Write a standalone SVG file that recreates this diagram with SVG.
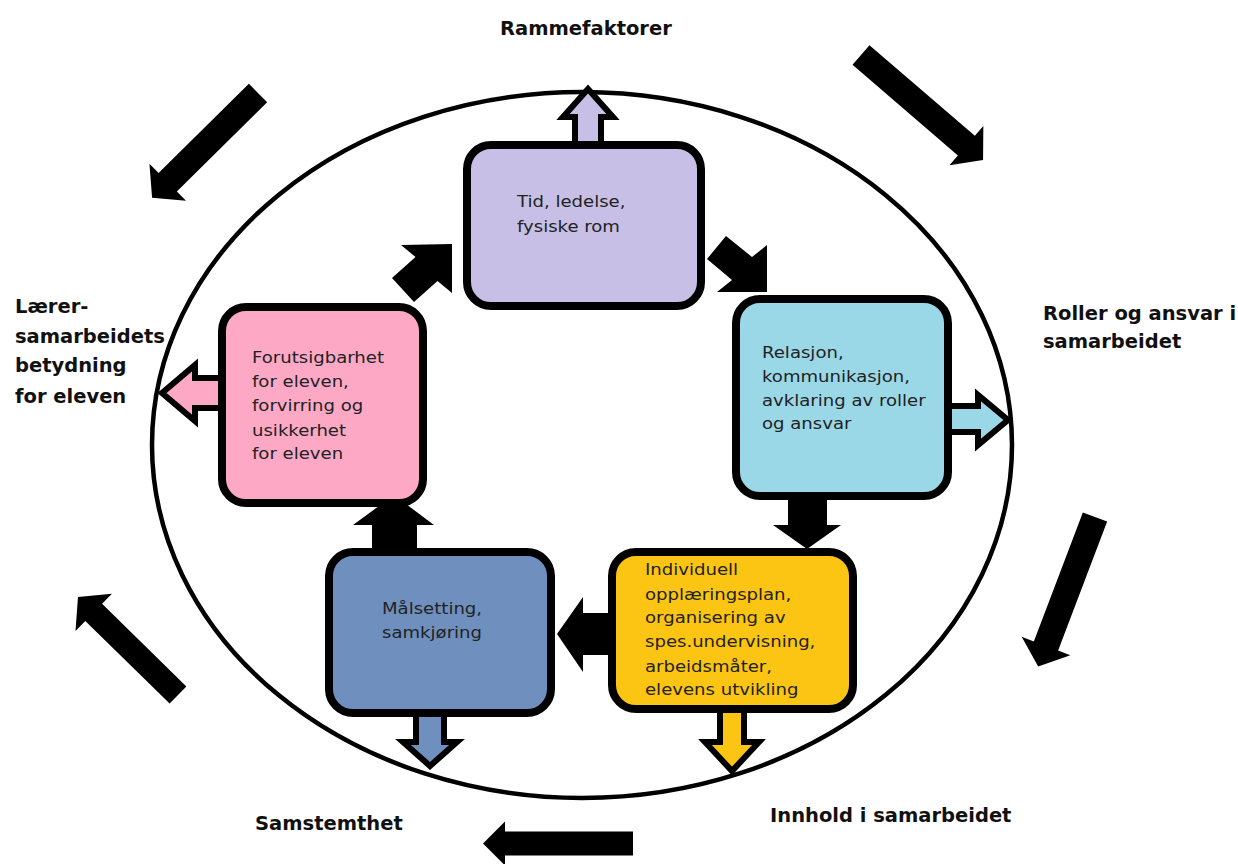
<svg xmlns="http://www.w3.org/2000/svg" width="1238" height="864" viewBox="0 0 1238 864">
<style>
.lbl{font-family:"DejaVu Sans","Liberation Sans",sans-serif;font-weight:bold;font-size:19.5px;fill:#111;}
.txt{font-family:"DejaVu Sans","Liberation Sans",sans-serif;font-size:16px;fill:#222;}
.box{stroke:#000;stroke-width:8;}
.oarr{stroke:#000;stroke-width:6;stroke-linejoin:miter;}
.barr{fill:#000;}
</style>
<rect width="1238" height="864" fill="#fff"/>
<ellipse cx="582" cy="445" rx="430" ry="353" fill="none" stroke="#000" stroke-width="4.5"/>

<g id="outer-arrows" class="barr">
  <path transform="translate(258,93) rotate(135.3)" d="M0,-13 H127 V-26 L149,0 L127,26 V13 H0 Z"/>
  <path transform="translate(861,55) rotate(40.7)" d="M0,-13 H139 V-26 L161,0 L139,26 V13 H0 Z"/>
  <path transform="translate(1095,517) rotate(110.8)" d="M0,-13 H138 V-26 L160,0 L138,26 V13 H0 Z"/>
  <path transform="translate(178,695) rotate(224.4)" d="M0,-12 H118 V-26 L140,0 L118,26 V12 H0 Z"/>
  <path transform="translate(633,843.5) rotate(180)" d="M0,-12 H128 V-22 L150,0 L128,22 V12 H0 Z"/>
</g>

<g id="connectors">
  <polygon class="barr" points="392,278 415.5,257 401,245 452,244 452,293 437.5,281 414,302"/>
  <polygon class="barr" points="726,236 752,257 767,245 767,292 717,292 732,280 707,259"/>
  <polygon class="barr" points="788,496 788,525 773,525 807,549 841,525 827,525 827,496"/>
  <polygon class="barr" points="612,613 583,613 583,597 557,634 583,672 583,655 612,655"/>
  <polygon class="barr" points="372,552 372,525 353,525 394,495 434,525 417,525 417,552"/>
  <polygon class="oarr" fill="#C7BFE6" points="575,145 575,117 563,117 588,89 613,117 601,117 601,145"/>
  <polygon class="oarr" fill="#9AD8E8" points="948,406 978,406 978,395 1008,420 978,445 978,432 948,432"/>
  <polygon class="oarr" fill="#FDA9C6" points="222,378 195,378 195,365 162,393 195,421 195,408 222,408"/>
  <polygon class="oarr" fill="#6F90BF" points="416,713 416,742 403,742 430,766 457,742 444,742 444,713"/>
  <polygon class="oarr" fill="#FCC513" points="720,709 720,742 705,742 732,771 759,742 744,742 744,709"/>
</g>

<g id="node-tid">
  <rect class="box" x="467" y="145" width="234" height="161" rx="24" fill="#C7BFE6"/>
  <text class="txt" transform="matrix(1.13,0,0,1,517,0)"><tspan x="0" y="207">Tid, ledelse,</tspan><tspan x="0" y="232">fysiske rom</tspan></text>
</g>
<g id="node-relasjon">
  <rect class="box" x="736" y="299" width="212" height="197" rx="24" fill="#9AD8E8"/>
  <text class="txt" transform="matrix(1.13,0,0,1,762,0)"><tspan x="0" y="358">Relasjon,</tspan><tspan x="0" y="382">kommunikasjon,</tspan><tspan x="0" y="406">avklaring av roller</tspan><tspan x="0" y="429">og ansvar</tspan></text>
</g>
<g id="node-forutsigbarhet">
  <rect class="box" x="222" y="307" width="201" height="196" rx="24" fill="#FDA9C6"/>
  <text class="txt" transform="matrix(1.13,0,0,1,252,0)"><tspan x="0" y="363">Forutsigbarhet</tspan><tspan x="0" y="387">for eleven,</tspan><tspan x="0" y="411">forvirring og</tspan><tspan x="0" y="436">usikkerhet</tspan><tspan x="0" y="459">for eleven</tspan></text>
</g>
<g id="node-malsetting">
  <rect class="box" x="329" y="552" width="222" height="161" rx="24" fill="#6F90BF"/>
  <text class="txt" transform="matrix(1.13,0,0,1,382,0)"><tspan x="0" y="614">Målsetting,</tspan><tspan x="0" y="638">samkjøring</tspan></text>
</g>
<g id="node-individuell">
  <rect class="box" x="612" y="552" width="241" height="157" rx="24" fill="#FCC513"/>
  <text class="txt" transform="matrix(1.13,0,0,1,645,0)"><tspan x="0" y="575">Individuell</tspan><tspan x="0" y="600">opplæringsplan,</tspan><tspan x="0" y="623">organisering av</tspan><tspan x="0" y="647">spes.undervisning,</tspan><tspan x="0" y="672">arbeidsmåter,</tspan><tspan x="0" y="695">elevens utvikling</tspan></text>
</g>

<g id="labels">
  <text class="lbl" x="500" y="35">Rammefaktorer</text>
  <text class="lbl"><tspan x="1043" y="320">Roller og ansvar i</tspan><tspan x="1043" y="348">samarbeidet</tspan></text>
  <text class="lbl"><tspan x="15" y="313">Lærer-</tspan><tspan x="15" y="343">samarbeidets</tspan><tspan x="15" y="372">betydning</tspan><tspan x="15" y="403">for eleven</tspan></text>
  <text class="lbl" x="255" y="830">Samstemthet</text>
  <text class="lbl" x="770" y="822">Innhold i samarbeidet</text>
</g>
</svg>
